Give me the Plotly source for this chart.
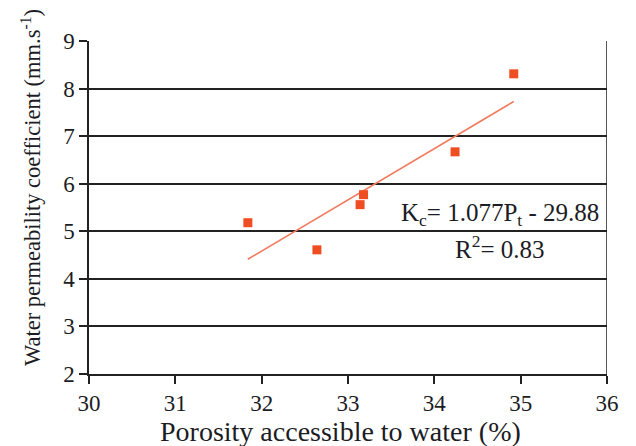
import plotly.graph_objects as go

# Measured porosity (%) and water permeability coefficient (mm/s)
porosity = [31.84, 32.64, 33.14, 33.18, 34.24, 34.92]
permeability = [5.18, 4.61, 5.56, 5.77, 6.67, 8.31]

# Linear fit Kc = slope * Pt + intercept
slope = 1.077
intercept = -29.88
r_squared = 0.83

x_ticks = [30, 31, 32, 33, 34, 35, 36]
y_ticks = [2, 3, 4, 5, 6, 7, 8, 9]

serif = "Liberation Serif, Times New Roman, serif"
text_color = "#1c1c24"
marker_color = "#EF4E22"
line_color = "#F27A5E"

fit_x = [min(porosity), max(porosity)]
fit_y = [slope * v + intercept for v in fit_x]

fig = go.Figure()
fig.add_trace(go.Scatter(
    x=fit_x, y=fit_y, mode="lines",
    line=dict(color=line_color, width=1.6),
    hoverinfo="skip", showlegend=False,
))
fig.add_trace(go.Scatter(
    x=porosity, y=permeability, mode="markers",
    marker=dict(symbol="square", size=9, color=marker_color, line=dict(width=0)),
    showlegend=False,
))

fig.update_layout(
    width=636, height=446,
    margin=dict(l=89, r=29, t=41, b=72),
    paper_bgcolor="white", plot_bgcolor="white",
    font=dict(family=serif, color=text_color),
    xaxis=dict(
        range=[30, 36], tickvals=x_ticks, ticks="outside", ticklen=8,
        tickwidth=1.5, tickcolor="#222", showgrid=False, zeroline=False,
        showline=True, linecolor="#222", linewidth=1.5, mirror=False,
        tickfont=dict(family=serif, size=23, color=text_color),
    ),
    yaxis=dict(
        range=[2, 9], tickvals=y_ticks, ticks="outside", ticklen=8,
        tickwidth=1.5, tickcolor="#222", showgrid=True, gridcolor="#222",
        gridwidth=1.5, zeroline=False, showline=True, linecolor="#222",
        linewidth=1.5, tickfont=dict(family=serif, size=23, color=text_color),
    ),
    shapes=[dict(type="line", xref="x", yref="paper", x0=36, x1=36, y0=0, y1=1,
                 line=dict(color="#222", width=1.5))],
    annotations=[
        dict(text="Porosity accessible to water (%)",
             xref="paper", yref="paper", x=0.486, y=-0.172,
             showarrow=False, xanchor="center", yanchor="middle",
             font=dict(family=serif, size=28, color=text_color)),
        dict(text="Water permeability coefficient (mm.s<sup>-1</sup>)",
             xref="paper", yref="paper", x=-0.113, y=0.56, textangle=-90,
             showarrow=False, xanchor="center", yanchor="middle",
             font=dict(family=serif, size=22.5, color=text_color)),
        dict(text=f"K<sub>c</sub>= {slope}P<sub>t</sub> - {abs(intercept):.2f}",
             xref="x", yref="y", x=35.93, y=5.36, xanchor="right",
             yanchor="middle", showarrow=False,
             font=dict(family=serif, size=25, color=text_color)),
        dict(text=f"R<sup>2</sup>= {r_squared:.2f}",
             xref="x", yref="y", x=34.76, y=4.66, xanchor="center",
             yanchor="middle", showarrow=False,
             font=dict(family=serif, size=25, color=text_color)),
    ],
)

fig.write_html("out.html")
